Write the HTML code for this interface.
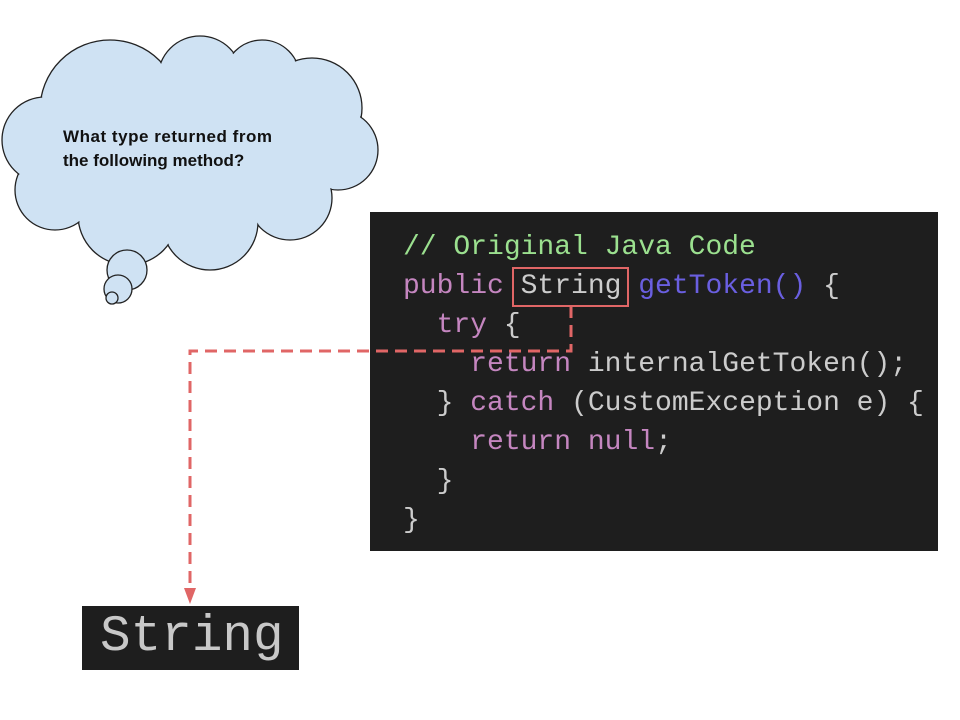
<!DOCTYPE html>
<html><head><style>
body{margin:0;width:960px;height:720px;background:#fff;position:relative;overflow:hidden}
.code{position:absolute;left:370px;top:212px;width:568px;height:339px;background:#1e1e1e}
.ln{position:absolute;left:403px;font-family:"Liberation Mono",monospace;font-size:28px;white-space:pre;color:#cccccc;line-height:39px}
.k{color:#c586c0}.g{color:#9be08f}.b{color:#6a5fe0}
</style></head><body>
<svg width="960" height="720" style="position:absolute;left:0;top:0">
<g fill="#cfe2f3" stroke="#222" stroke-width="1.3">
<circle cx="110" cy="110" r="70"/><circle cx="200" cy="78" r="42"/><circle cx="262" cy="78" r="38"/><circle cx="312" cy="108" r="50"/><circle cx="338" cy="150" r="40"/><circle cx="290" cy="198" r="42"/><circle cx="210" cy="222" r="48"/><circle cx="128" cy="215" r="50"/><circle cx="55" cy="190" r="40"/><circle cx="45" cy="140" r="43"/>
</g>
<g fill="#cfe2f3">
<circle cx="110" cy="110" r="69"/><circle cx="200" cy="78" r="41"/><circle cx="262" cy="78" r="37"/><circle cx="312" cy="108" r="49"/><circle cx="338" cy="150" r="39"/><circle cx="290" cy="198" r="41"/><circle cx="210" cy="222" r="47"/><circle cx="128" cy="215" r="49"/><circle cx="55" cy="190" r="39"/><circle cx="45" cy="140" r="42"/>
<circle cx="170" cy="150" r="85"/><circle cx="260" cy="150" r="70"/>
</g>
<g fill="#cfe2f3" stroke="#222" stroke-width="1.3">
<circle cx="127" cy="270" r="20"/><circle cx="118" cy="289" r="14"/><circle cx="112" cy="298" r="6"/>
</g>
<text x="63" y="142" font-family="Liberation Sans,sans-serif" font-weight="bold" font-size="17" fill="#111" textLength="209">What type returned from</text>
<text x="63" y="166" font-family="Liberation Sans,sans-serif" font-weight="bold" font-size="17" fill="#111">the following method?</text>
</svg>
<div class="code"></div>
<div class="ln g" style="top:228px">// Original Java Code</div>
<div class="ln" style="top:267px"><span class="k">public</span> String <span class="b">getToken()</span> {</div>
<div class="ln" style="top:306px">  <span class="k">try</span> {</div>
<div class="ln" style="top:345px">    <span class="k">return</span> internalGetToken();</div>
<div class="ln" style="top:384px">  } <span class="k">catch</span> (CustomException e) {</div>
<div class="ln" style="top:423px">    <span class="k">return null</span>;</div>
<div class="ln" style="top:462px">  }</div>
<div class="ln" style="top:501px">}</div>
<div style="position:absolute;left:82px;top:606px;width:217px;height:64px;background:#1e1e1e"></div>
<div style="position:absolute;left:100px;top:606px;font-family:'Liberation Mono',monospace;font-size:51px;line-height:64px;color:#c8c8c8">String</div>
<svg width="960" height="720" style="position:absolute;left:0;top:0">
<rect x="513" y="268" width="115" height="38" fill="none" stroke="#e06666" stroke-width="2"/>
<polyline points="571,306 571,351 190,351 190,590" fill="none" stroke="#e06666" stroke-width="3" stroke-dasharray="12,7"/>
<polygon points="184,588 196,588 190,604" fill="#e06666"/>
</svg>
</body></html>
